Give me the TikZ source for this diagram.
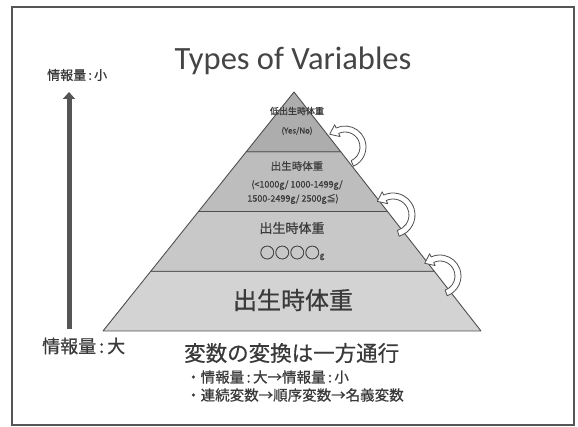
\documentclass[tikz,border=0pt]{standalone}
\usepackage{fontspec}
\newfontfamily\jpfont[FakeBold=0.6]{Noto Sans CJK JP}
\newfontfamily\titlefont{Carlito}
\usetikzlibrary{calc,arrows.meta}
\definecolor{framegray}{HTML}{555555}
\definecolor{txt}{HTML}{3A3A3A}
\definecolor{ttl}{HTML}{454545}
\definecolor{lay1}{HTML}{ADADAD}
\definecolor{lay2}{HTML}{BDBDBD}
\definecolor{lay3}{HTML}{C8C8C8}
\definecolor{lay4}{HTML}{D3D3D3}
\definecolor{edge}{HTML}{4F4F4F}
\newcommand\uturnarrow[5]{% center, radius, start angle, end angle, name
  \pgfmathsetmacro\ro{#2+3}\pgfmathsetmacro\ri{#2-3}
  \pgfmathsetmacro\wo{#2+6.5}\pgfmathsetmacro\wi{#2-6.5}
  \coordinate (#5tip) at ($(#1)+(#4:#2)+(#4-90:8.5)$);
  \draw[uarrow] ($(#1)+(#3:\ro)$) arc[start angle=#3, end angle=#4, radius=\ro]
    -- ($(#1)+(#4:\wo)$) -- (#5tip) -- ($(#1)+(#4:\wi)$) -- ($(#1)+(#4:\ri)$)
    arc[start angle=#4, end angle=#3, radius=\ri] -- cycle;}
\begin{document}
\begin{tikzpicture}[x=1pt,y=-1pt,
  layer/.style={draw=edge, line width=0.9pt, line join=round},
  uarrow/.style={draw=edge, fill=white, line width=0.8pt, line join=round},
  lbl/.style={text=txt, inner sep=0pt, font=\jpfont}]
\useasboundingbox (0,0) rectangle (578,427);
\fill[white] (0,0) rectangle (578,427);
\draw[framegray, line width=1.4pt] (12,7) rectangle (574,425);

% title
\node[text=ttl, font=\titlefont\fontsize{32.5}{36}\selectfont, inner sep=0pt] (title) at (293,61) {Types of Variables};

% pyramid
\coordinate (A) at (294,92);
\coordinate (BL) at (103,331);
\coordinate (BR) at (481,331);
\coordinate (L1) at ($(A)!0.25!(BL)$); \coordinate (R1) at ($(A)!0.25!(BR)$);
\coordinate (L2) at ($(A)!0.5!(BL)$);  \coordinate (R2) at ($(A)!0.5!(BR)$);
\coordinate (L3) at ($(A)!0.75!(BL)$); \coordinate (R3) at ($(A)!0.75!(BR)$);
\draw[layer, fill=lay4] (L3) -- (R3) -- (BR) -- (BL) -- cycle;
\draw[layer, fill=lay3] (L2) -- (R2) -- (R3) -- (L3) -- cycle;
\draw[layer, fill=lay2] (L1) -- (R1) -- (R2) -- (L2) -- cycle;
\draw[layer, fill=lay1] (A) -- (R1) -- (L1) -- cycle;

% pyramid texts
\node[lbl, font=\jpfont\fontsize{9}{10}\selectfont] (t1a) at (297,111) {低出生時体重};
\node[lbl, font=\jpfont\fontsize{8}{9}\selectfont] (t1b) at (297,131) {(Yes/No)};
\node[lbl, font=\jpfont\fontsize{10.5}{12}\selectfont] (t2a) at (297,166) {出生時体重};
\node[lbl, font=\jpfont\fontsize{9}{10}\selectfont] (t2b) at (297,185) {(<1000g/ 1000-1499g/};
\node[lbl, font=\jpfont\fontsize{9}{10}\selectfont] (t2c) at (293,199) {1500-2499g/ 2500g≦)};
\node[lbl, font=\jpfont\fontsize{13}{15}\selectfont] (t3a) at (292,228) {出生時体重};
\node[lbl, font=\jpfont\fontsize{15}{17}\selectfont] (t3b) at (292,253) {○○○○{\fontsize{8}{9}\selectfont g}};
\node[lbl, font=\jpfont\fontsize{24}{28}\selectfont] (t4) at (293,300) {出生時体重};

% curved arrows
\coordinate (c1) at (345,147);
\coordinate (c2) at (393,215);
\coordinate (c3) at (440,276);
\uturnarrow{c1}{18}{66}{-115}{ua}
\uturnarrow{c2}{19}{74}{-115}{ub}
\uturnarrow{c3}{18}{70}{-115}{uc}

% left arrow
\node[lbl, font=\jpfont\fontsize{13}{15}\selectfont, anchor=west] (small) at (47,75) {情報量\,:\,小};
\node[lbl, font=\jpfont\fontsize{18}{20}\selectfont, anchor=west] (large) at (42,346) {情報量\,:\,大};
\coordinate (abot) at (69,329);
\coordinate (atop) at (69,92);
\draw[framegray, line width=5pt, -{Triangle[length=7pt,width=12pt]}] (abot) -- (atop);

% bottom texts
\node[lbl, font=\jpfont\fontsize{21.5}{24}\selectfont, anchor=west] (b1) at (184,353) {変数の変換は一方通行};
\node[lbl, font=\jpfont\fontsize{14.5}{16}\selectfont, anchor=west] (b2) at (186,377) {・情報量\,:\,大→情報量\,:\,小};
\node[lbl, font=\jpfont\fontsize{14.5}{16}\selectfont, anchor=west] (b3) at (186,395) {・連続変数→順序変数→名義変数};
\end{tikzpicture}
\end{document}
